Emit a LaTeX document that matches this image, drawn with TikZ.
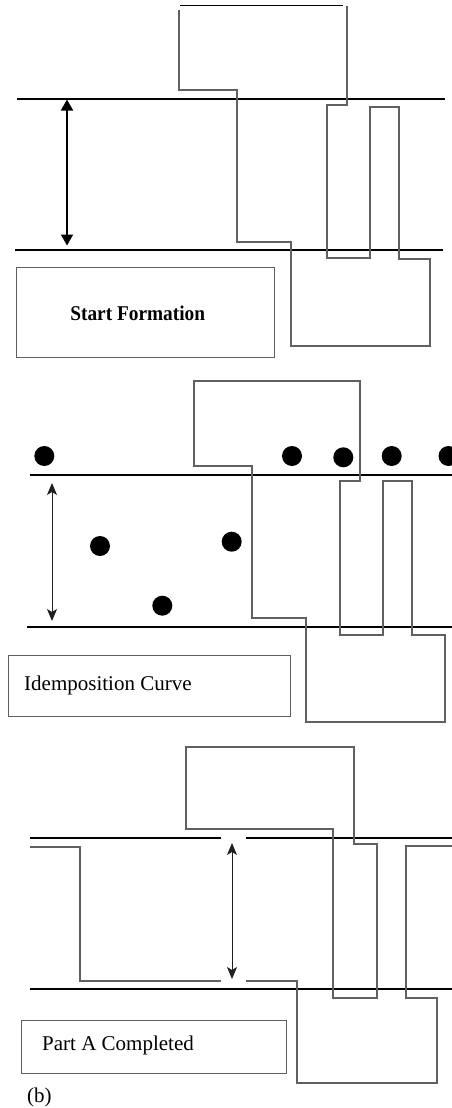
\documentclass[tikz,border=0pt]{standalone}
\usepackage{fontspec}
\setmainfont{Liberation Serif}
\usetikzlibrary{arrows.meta}
\definecolor{edgegray}{HTML}{606060}
\definecolor{arrowgray}{HTML}{202020}
\tikzset{
  baseline/.style={draw=black, line width=1.7pt},
  outline/.style={draw=edgegray, line width=1.2pt},
  boxframe/.style={draw=edgegray, line width=1.2pt},
  dot/.style={circle, fill=black, inner sep=0pt, minimum size=20pt},
  label21/.style={font=\fontsize{21}{24}\selectfont, inner sep=0pt},
  bigarrow/.style={draw=black, line width=1.7pt, {Triangle[width=12pt,length=11pt]}-{Triangle[width=12pt,length=11pt]}},
  thinarrow/.style={draw=arrowgray, line width=1pt, {Stealth[width=10pt,length=12pt,inset=3pt]}-{Stealth[width=10pt,length=12pt,inset=3pt]}}
}
\begin{document}
\begin{tikzpicture}[x=1pt,y=-1pt]
\useasboundingbox (0,0) rectangle (452,1108);

% ---------- Panel 1 ----------
\draw[baseline] (17,98.7) -- (445,98.7);
\draw[baseline] (15,250.3) -- (443,250.3);
\draw[draw=black, line width=1.3pt] (180,5.7) -- (343,5.7);
\draw[outline] (179,10) -- (179,90) -- (237,90) -- (237,242) -- (291,242) -- (291,346) -- (431,346);
\draw[outline] (430,346) -- (430,259) -- (399,259) -- (399,107) -- (370,107) -- (370,258) -- (327,258) -- (327,105) -- (347,105) -- (347,6);
\coordinate (a1top) at (67,99.5);
\coordinate (a1bot) at (67,245.5);
\draw[bigarrow] (a1bot) -- (a1top);
\node[boxframe, anchor=north west, minimum width=258pt, minimum height=90pt, inner sep=0pt] (box1) at (16,266.7) {};
\node[label21, font=\fontsize{21}{24}\selectfont\bfseries] (t1) at (137.7,313) {\scalebox{0.92}[1]{Start Formation}};

% ---------- Panel 2 ----------
\draw[baseline] (30,475) -- (452,475);
\draw[baseline] (27,626.7) -- (452,626.7);
\draw[outline] (194,381) -- (194,466) -- (252,466) -- (252,618) -- (306,618) -- (306,722) -- (445,722) -- (445,635) -- (412,635) -- (412,481) -- (383,481) -- (383,635) -- (340,635) -- (340,481) -- (360,481) -- (360,381) -- cycle;
\node[dot] (d1) at (44.3,456) {};
\node[dot] (d2) at (292,456) {};
\node[dot] (d3) at (343.3,457.3) {};
\node[dot] (d4) at (391.7,456) {};
\node[dot] (d5) at (448.5,456) {};
\node[dot] (d6) at (100,546) {};
\node[dot] (d7) at (231.7,541.7) {};
\node[dot] (d8) at (162.3,605.7) {};
\coordinate (a2top) at (52,483);
\coordinate (a2bot) at (52,621);
\draw[thinarrow] (a2bot) -- (a2top);
\node[boxframe, anchor=north west, minimum width=282pt, minimum height=60.7pt, inner sep=0pt] (box2) at (8,655) {};
\node[label21, anchor=west] (t2) at (24,685) {Idemposition Curve};

% ---------- Panel 3 ----------
\draw[baseline] (30,837.7) -- (221,837.7);
\draw[baseline] (246,837.7) -- (452,837.7);
\draw[baseline] (30,989.3) -- (452,989.3);
\draw[outline] (186,747) -- (186,829) -- (333,829) -- (333,998) -- (377,998) -- (377,844) -- (354,844) -- (354,747) -- cycle;
\draw[outline] (30,847) -- (80,847) -- (80,981) -- (221,981);
\draw[outline] (246,981) -- (297,981) -- (297,1083) -- (437,1083) -- (437,998) -- (406,998) -- (406,846) -- (452,846);
\coordinate (a3top) at (232,843);
\coordinate (a3bot) at (232,979);
\draw[thinarrow] (a3bot) -- (a3top);
\node[boxframe, anchor=north west, minimum width=265pt, minimum height=52.7pt, inner sep=0pt] (box3) at (21,1020) {};
\node[label21, anchor=west] (t3) at (42,1045) {Part A Completed};
\node[label21, anchor=west] (cap) at (27,1097) {(b)};
\end{tikzpicture}
\end{document}
